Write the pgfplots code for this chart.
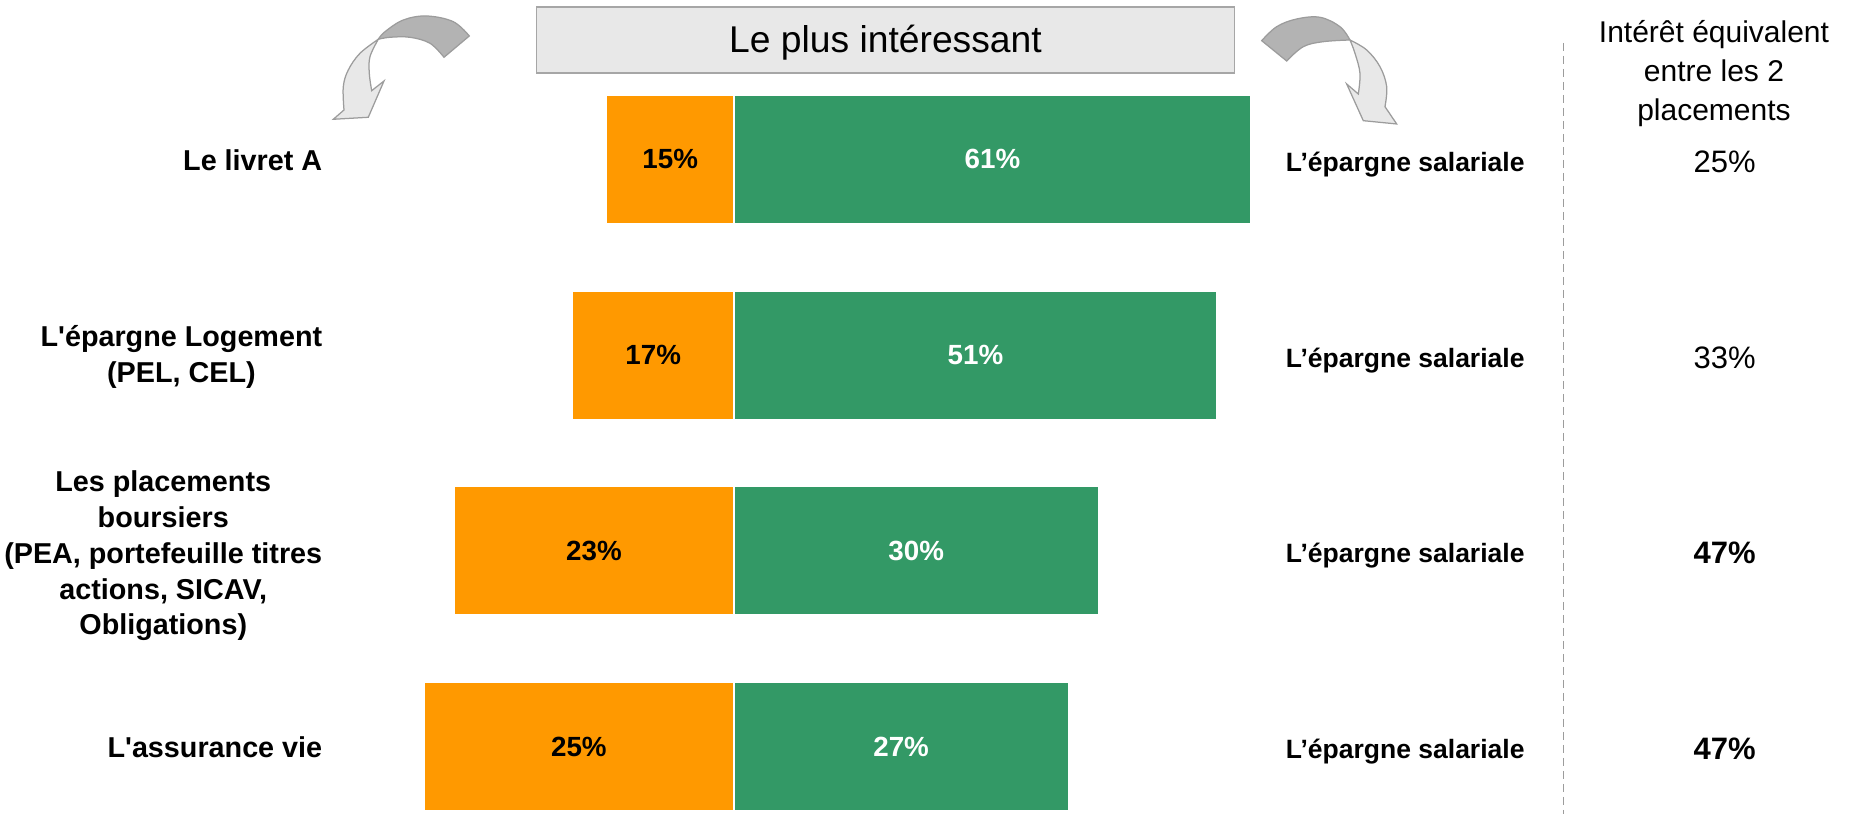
\documentclass[border=0pt]{standalone}
\usepackage{fontspec}
\setmainfont{Liberation Sans}
\usepackage{pgfplots}
\usepackage{pgfplotstable}
\pgfplotsset{compat=1.18}

\definecolor{cOrange}{HTML}{FF9900}
\definecolor{cGreen}{HTML}{339966}
\definecolor{cArrowDark}{HTML}{B3B3B3}
\definecolor{cArrowLight}{HTML}{E8E8E8}
\definecolor{cLine}{HTML}{9C9C9C}

\newcommand\lblfont{\bfseries\fontsize{11.5}{14.3}\selectfont}
\newcommand\rlblfont{\bfseries\fontsize{10.6}{13}\selectfont}
\newcommand\barfont{\bfseries\fontsize{11.1}{13}\selectfont}
\newcommand\hdrfont{\fontsize{12}{15}\selectfont}

% L = plus interessant (gauche), R = epargne salariale, E = interet equivalent
\pgfplotstableread{
y L R E
0 15 61 25
1 17 51 33
2 23 30 47
3 25 27 47
}\datatable

\begin{document}
\begin{tikzpicture}
\begin{axis}[
  at={(0,0)}, anchor=south west,
  width=744.4pt, height=325.6pt, scale only axis,
  xmin=-113.85, xmax=174.90,
  ymin=-0.8145, ymax=3.345,
  y dir=reverse,
  hide axis, clip=false,
]
  % bars are shares of (L+R), as in the original
  \addplot[xbar, bar width=0.656, bar shift=0pt, fill=cOrange, draw=white, line width=0.6pt]
    table[x expr={-100*\thisrow{L}/(\thisrow{L}+\thisrow{R})}, y=y] {\datatable};
  \addplot[xbar, bar width=0.656, bar shift=0pt, fill=cGreen, draw=white, line width=0.6pt]
    table[x expr={100*\thisrow{R}/(\thisrow{L}+\thisrow{R})}, y=y] {\datatable};

  \addplot[draw=none, nodes near coords={\pgfplotspointmeta\%}, point meta=explicit symbolic,
    every node near coord/.style={anchor=center, font=\barfont, text=black}]
    table[x expr={-50*\thisrow{L}/(\thisrow{L}+\thisrow{R})}, y=y, meta=L] {\datatable};
  \addplot[draw=none, nodes near coords={\pgfplotspointmeta\%}, point meta=explicit symbolic,
    every node near coord/.style={anchor=center, font=\barfont, text=white}]
    table[x expr={50*\thisrow{R}/(\thisrow{L}+\thisrow{R})}, y=y, meta=R] {\datatable};
\end{axis}

% layout in pixels of the 1861x814 reference
\begin{scope}[x=0.4pt, y=-0.4pt, shift={(0pt,325.6pt)}]
  % title box
  \draw[fill=black!9, draw=black!35, line width=0.6pt] (536.5,7) rectangle (1234.4,73);
  \node[anchor=base, inner sep=0pt, font=\fontsize{14.9}{18}\selectfont] at (885.5,53) {Le plus intéressant};

  % left arrow
  \filldraw[fill=cArrowDark, draw=cLine, line width=0.5pt]
    plot[smooth, tension=0.6] coordinates {(469.3,36) (453.3,21.7) (426.7,16) (403.3,20) (385,31.7) (378.3,39.3)}
    -- plot[smooth, tension=0.6] coordinates {(378.3,39.3) (390,37.3) (410,37.3) (430,43.3) (444,57.3)} -- cycle;
  \filldraw[fill=cArrowLight, draw=cLine, line width=0.5pt]
    plot[smooth, tension=0.6] coordinates {(378.3,39.3) (360,53.3) (348.3,70) (343.3,86.7) (344,110)}
    -- (333.3,119.3) -- (368.3,117.3) -- (384,81) -- (371.7,90.7)
    -- plot[smooth, tension=0.6] coordinates {(371.7,90.7) (369.3,73.3) (370,56.7) (378.3,39.3)} -- cycle;

  % right arrow
  \filldraw[fill=cArrowDark, draw=cLine, line width=0.5pt]
    plot[smooth, tension=0.6] coordinates {(1261.7,40.7) (1276.7,26.7) (1296.7,19) (1320,17.3) (1340,26.7) (1350,40)}
    -- plot[smooth, tension=0.6] coordinates {(1350,40) (1323.3,41.7) (1303.3,46.7) (1286.7,61)} -- cycle;
  \filldraw[fill=cArrowLight, draw=cLine, line width=0.5pt]
    plot[smooth, tension=0.6] coordinates {(1350,40) (1366.7,50) (1380,66.7) (1386.7,86.7) (1385,106.7)}
    -- (1396.7,124) -- (1363.3,120.7) -- (1346.7,84) -- (1358.3,94)
    -- plot[smooth, tension=0.6] coordinates {(1358.3,94) (1360,73.3) (1355,53.3) (1350,40)} -- cycle;

  % left labels
  \node[anchor=east, align=center, inner sep=0pt, font=\lblfont] at (322.7,160) {Le livret A};
  \node[anchor=east, align=center, inner sep=0pt, font=\lblfont] at (322.7,357) {L\textquotesingle épargne Logement\\(PEL, CEL)};
  \node[anchor=east, align=center, inner sep=0pt, font=\lblfont] at (322.7,556) {Les placements\\boursiers\\(PEA, portefeuille titres\\actions, SICAV,\\Obligations)};
  \node[anchor=east, align=center, inner sep=0pt, font=\lblfont] at (322.7,747) {L\textquotesingle assurance vie};

  % right labels
  \foreach \yy in {172,368,563,759}
    \node[anchor=base west, inner sep=0pt, font=\rlblfont] at (1285.4,\yy) {L’épargne salariale};

  % separator
  \draw[cLine, line width=0.5pt, dash pattern=on 3.2pt off 2pt] (1563.3,43) -- (1563.3,814);

  % header of the last column
  \node[anchor=base, inner sep=0pt, font=\hdrfont] at (1714,43) {Intérêt équivalent};
  \node[anchor=base, inner sep=0pt, font=\hdrfont] at (1714,82) {entre les 2};
  \node[anchor=base, inner sep=0pt, font=\hdrfont] at (1714,121) {placements};

  \node[anchor=base, inner sep=0pt, font=\fontsize{12.4}{15}\selectfont] at (1724.6,173) {25\%};
  \node[anchor=base, inner sep=0pt, font=\fontsize{12.4}{15}\selectfont] at (1724.6,369) {33\%};
  \node[anchor=base, inner sep=0pt, font=\bfseries\fontsize{12.4}{15}\selectfont] at (1724.6,564) {47\%};
  \node[anchor=base, inner sep=0pt, font=\bfseries\fontsize{12.4}{15}\selectfont] at (1724.6,760) {47\%};
\end{scope}

\pgfresetboundingbox
\path[use as bounding box] (0,0) rectangle (744.4pt,325.6pt);
\end{tikzpicture}
\end{document}
